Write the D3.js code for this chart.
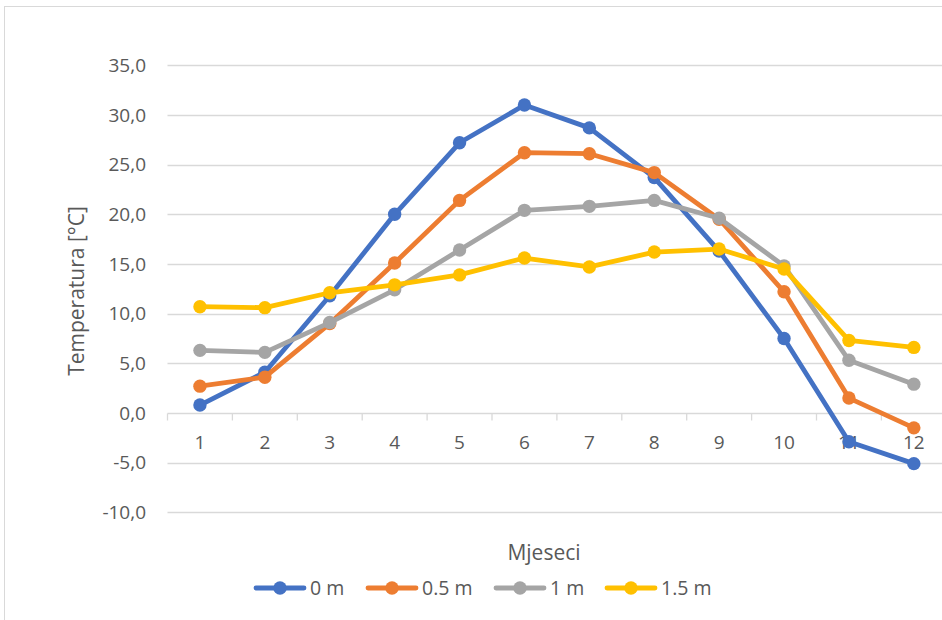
<!DOCTYPE html>
<html>
<head>
<meta charset="utf-8">
<script src="https://cdn.jsdelivr.net/npm/d3@7"></script>
<style>
  html, body { margin: 0; padding: 0; background: #fff; }
  svg { display: block; }
  text { font-family: "Open Sans", "Liberation Sans", sans-serif; fill: #595959; }
</style>
</head>
<body>
<svg id="chart" width="942" height="620"></svg>
<script>
const months = ["1","2","3","4","5","6","7","8","9","10","11","12"];
const seriesNames = ["0 m", "0.5 m", "1 m", "1.5 m"];
const depth0 =   [0.8, 4.1, 11.8, 20.0, 27.2, 31.0, 28.7, 23.7, 16.3, 7.5, -2.9, -5.1];
const depth05 =  [2.7, 3.6, 9.0, 15.1, 21.4, 26.2, 26.1, 24.2, 19.5, 12.2, 1.5, -1.5];
const depth1 =   [6.3, 6.1, 9.1, 12.4, 16.4, 20.4, 20.8, 21.4, 19.6, 14.8, 5.3, 2.9];
const depth15 =  [10.7, 10.6, 12.1, 12.9, 13.9, 15.6, 14.7, 16.2, 16.5, 14.5, 7.3, 6.6];
const yTicks = [-10, -5, 0, 5, 10, 15, 20, 25, 30, 35];
const colors = ["#4472C4", "#ED7D31", "#A5A5A5", "#FFC000"];
const yTitle = "Temperatura [°C]";
const xTitle = "Mjeseci";

const allSeries = [depth0, depth05, depth1, depth15];

const svg = d3.select("#chart");

// chart border
svg.append("rect")
  .attr("x", 4.5).attr("y", 6.5)
  .attr("width", 960).attr("height", 640)
  .attr("fill", "none").attr("stroke", "#d9d9d9").attr("stroke-width", 1);

const x = d3.scaleBand().domain(months).range([167.5, 946.3]).padding(0);
const y = d3.scaleLinear().domain([-10, 35]).range([512.3, 65.3]);
const cx = d => x(d) + x.bandwidth() / 2;

// gridlines
svg.append("g")
  .selectAll("line")
  .data(yTicks)
  .join("line")
  .attr("x1", 167.5).attr("x2", 946.3)
  .attr("y1", d => Math.round(y(d)) + 0.5).attr("y2", d => Math.round(y(d)) + 0.5)
  .attr("stroke", "#d9d9d9").attr("stroke-width", 1.3);

// y axis labels
const fmt = v => v.toFixed(1).replace(".", ",");
svg.append("g")
  .selectAll("text")
  .data(yTicks)
  .join("text")
  .attr("x", 146)
  .attr("y", d => y(d))
  .attr("dy", "0.35em")
  .attr("text-anchor", "end")
  .attr("font-size", 19)
  .text(d => fmt(d));

// x axis tick marks at category boundaries (along zero line)
const y0 = Math.round(y(0)) + 0.5;
const edges = months.map(m => x(m)).concat([x(months[months.length - 1]) + x.bandwidth()]);
svg.append("g")
  .selectAll("line")
  .data(edges)
  .join("line")
  .attr("x1", d => d).attr("x2", d => d)
  .attr("y1", y0).attr("y2", y0 + 7)
  .attr("stroke", "#d9d9d9").attr("stroke-width", 1.3);

// x axis labels
svg.append("g")
  .selectAll("text")
  .data(months)
  .join("text")
  .attr("x", d => cx(d))
  .attr("y", 442)
  .attr("dy", "0.35em")
  .attr("text-anchor", "middle")
  .attr("font-size", 19)
  .text(d => d);

// series
const line = d3.line().x((d, i) => cx(months[i])).y(d => y(d));
allSeries.forEach((vals, si) => {
  const g = svg.append("g");
  g.append("path")
    .datum(vals)
    .attr("d", line)
    .attr("fill", "none")
    .attr("stroke", colors[si])
    .attr("stroke-width", 4.8)
    .attr("stroke-linejoin", "round")
    .attr("stroke-linecap", "round");
  g.selectAll("circle")
    .data(vals)
    .join("circle")
    .attr("cx", (d, i) => cx(months[i]))
    .attr("cy", d => y(d))
    .attr("r", 6.7)
    .attr("fill", colors[si]);
});

// axis titles
svg.append("text")
  .attr("transform", "translate(77,291) rotate(-90)")
  .attr("text-anchor", "middle")
  .attr("dy", "0.35em")
  .attr("font-size", 21)
  .text(yTitle);

svg.append("text")
  .attr("x", 544)
  .attr("y", 553)
  .attr("dy", "0.35em")
  .attr("text-anchor", "middle")
  .attr("font-size", 21)
  .text(xTitle);

// legend
const legendX = [256, 368, 496, 607];
const legendY = 588;
const leg = svg.append("g");
seriesNames.forEach((name, i) => {
  const lx = legendX[i];
  leg.append("line")
    .attr("x1", lx).attr("x2", lx + 48)
    .attr("y1", legendY).attr("y2", legendY)
    .attr("stroke", colors[i]).attr("stroke-width", 4.8)
    .attr("stroke-linecap", "round");
  leg.append("circle")
    .attr("cx", lx + 24).attr("cy", legendY).attr("r", 6.7)
    .attr("fill", colors[i]);
  leg.append("text")
    .attr("x", lx + 54).attr("y", legendY)
    .attr("dy", "0.35em")
    .attr("font-size", 19.5)
    .text(name);
});
</script>
</body>
</html>
